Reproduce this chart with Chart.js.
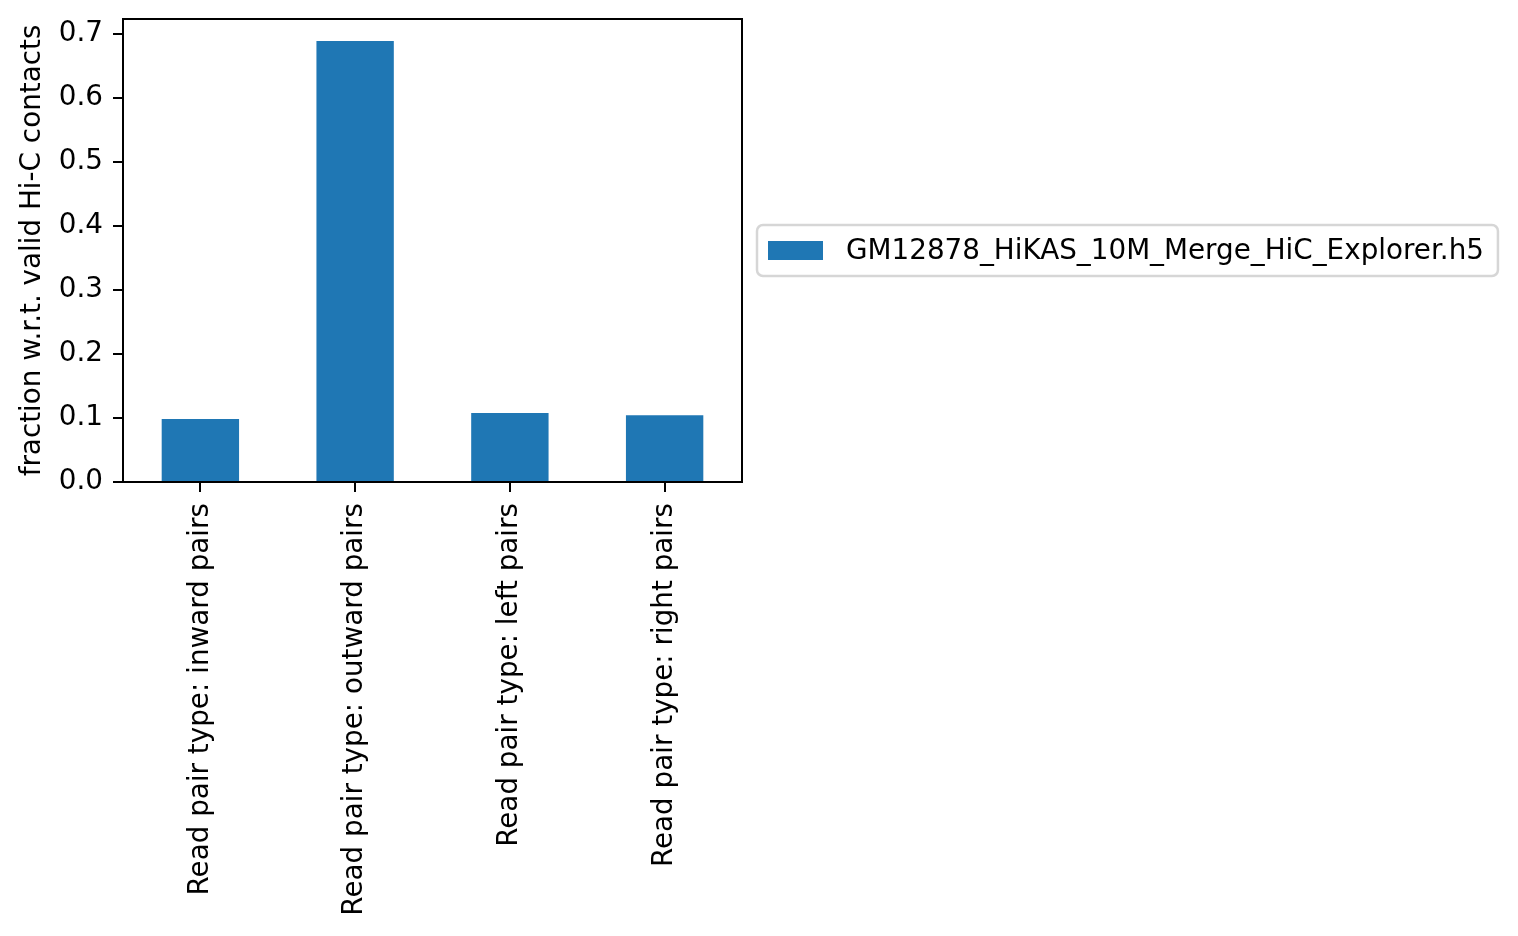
<!DOCTYPE html>
<html>
<head>
<meta charset="utf-8">
<script src="https://cdn.jsdelivr.net/npm/chart.js@4.4.0/dist/chart.umd.min.js"></script>
<style>
  html, body { margin: 0; padding: 0; background: #fff; }
  #wrap { width: 1518px; height: 936px; }
</style>
</head>
<body>
<div id="wrap"><canvas id="pairChart"></canvas></div>
<script>
var categories = [
    'Read pair type: inward pairs',
    'Read pair type: outward pairs',
    'Read pair type: left pairs',
    'Read pair type: right pairs'
];
var fractions = [0.0982, 0.6885, 0.1076, 0.1044];
var seriesName = 'GM12878_HiKAS_10M_Merge_HiC_Explorer.h5';
var yTicks = [0.0, 0.1, 0.2, 0.3, 0.4, 0.5, 0.6, 0.7];
var yTitle = 'fraction w.r.t. valid Hi-C contacts';

var FONT = 'DejaVu Sans';
var FS = 27.8;
var barColor = '#1f77b4';

Chart.defaults.font.family = FONT;
Chart.defaults.font.size = FS;
Chart.defaults.color = '#000';

// black box round the plot area, like matplotlib's spines
var frame = {
    id: 'frame',
    afterDatasetsDraw: function (chart) {
        var a = chart.chartArea, c = chart.ctx;
        c.save();
        c.strokeStyle = '#000';
        c.lineWidth = 2;
        c.strokeRect(a.left, a.top, a.right - a.left, a.bottom - a.top);
        c.restore();
    }
};

// legend box outside the axes, centred on the right side
var sideLegend = {
    id: 'sideLegend',
    afterDraw: function (chart) {
        var a = chart.chartArea, c = chart.ctx;
        var ds = chart.data.datasets[0];
        c.save();
        c.font = FS + 'px "' + FONT + '"';
        var tw = c.measureText(ds.label).width;
        var pad = 11, patchW = 55, patchH = 19, gap = 23;
        var w = pad + patchW + gap + tw + pad + 3;
        var h = 51;
        var x = a.right + 15;
        var y = (a.top + a.bottom) / 2 - h / 2;
        var r = 6;
        c.beginPath();
        c.moveTo(x + r, y);
        c.arcTo(x + w, y, x + w, y + h, r);
        c.arcTo(x + w, y + h, x, y + h, r);
        c.arcTo(x, y + h, x, y, r);
        c.arcTo(x, y, x + w, y, r);
        c.closePath();
        c.fillStyle = 'rgba(255,255,255,0.8)';
        c.fill();
        c.strokeStyle = 'rgba(204,204,204,0.8)';
        c.lineWidth = 2.5;
        c.stroke();
        c.fillStyle = ds.backgroundColor;
        c.fillRect(x + pad, y + h / 2 - patchH / 2, patchW, patchH);
        c.fillStyle = '#000';
        c.textBaseline = 'middle';
        c.fillText(ds.label, x + pad + patchW + gap, y + h / 2 + 1);
        c.restore();
    }
};

var ctx = document.getElementById('pairChart');
var pairChart = new Chart(ctx, {
    type: 'bar',
    data: {
        labels: categories,
        datasets: [{
            label: seriesName,
            data: fractions,
            backgroundColor: barColor,
            borderWidth: 0,
            categoryPercentage: 1.0,
            barPercentage: 0.5
        }]
    },
    options: {
        responsive: true,
        maintainAspectRatio: false,
        animation: false,
        layout: { padding: { top: 19, right: 776, bottom: 0, left: 0 } },
        plugins: {
            legend: { display: false },
            tooltip: { enabled: false }
        },
        scales: {
            x: {
                border: { display: false },
                grid: {
                    drawOnChartArea: false,
                    offset: false,
                    color: '#000',
                    lineWidth: 2,
                    tickLength: 10
                },
                ticks: {
                    minRotation: 90,
                    maxRotation: 90,
                    autoSkip: false,
                    padding: 11
                },
                afterFit: function (scale) {
                    scale.height = 454;
                    scale.paddingLeft = 0;
                    scale.paddingRight = 0;
                }
            },
            y: {
                min: 0,
                max: Math.max.apply(null, fractions) * 1.05,
                border: { display: false },
                grid: {
                    drawOnChartArea: false,
                    color: '#000',
                    lineWidth: 2,
                    tickLength: 10
                },
                ticks: {
                    stepSize: 0.1,
                    includeBounds: false,
                    padding: 10,
                    callback: function (v) {
                        var hit = yTicks.find(function (t) { return Math.abs(t - v) < 1e-9; });
                        return hit === undefined ? null : hit.toFixed(1);
                    }
                },
                title: {
                    display: true,
                    text: yTitle,
                    padding: { top: 16, bottom: 0 }
                },
                afterFit: function (scale) {
                    scale.width = 123;
                    scale.paddingTop = 0;
                    scale.paddingBottom = 0;
                }
            }
        }
    },
    plugins: [frame, sideLegend]
});
</script>
</body>
</html>
